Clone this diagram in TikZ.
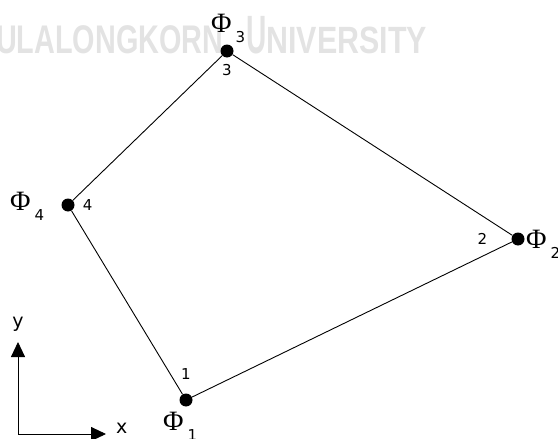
\documentclass[tikz,border=0pt]{standalone}
\usepackage{fontspec}
\setmainfont{Liberation Serif}
\newfontfamily\numfont{DejaVu Sans}
\newfontfamily\markfont{Liberation Sans}
\usepackage{graphicx}
\usepackage{xcolor}
\definecolor{ink}{HTML}{000000}
\definecolor{stamp}{HTML}{E3E3E3}
\usepackage{tikz}
\usetikzlibrary{positioning,arrows.meta}
\tikzset{
  dot/.style={circle, fill=ink, inner sep=0pt, minimum size=13pt},
  edge/.style={ink, line width=0.9pt},
  axis/.style={{Triangle[length=15pt, width=14pt]}-{Triangle[length=15pt, width=14pt]}, ink, line width=0.9pt},
  num/.style={inner sep=0pt, font=\numfont\fontsize{15}{15}\selectfont},
  axlbl/.style={inner sep=0pt, font=\numfont\fontsize{19}{19}\selectfont},
  phi/.style={inner sep=0pt, anchor=base west, font=\fontsize{28}{28}\selectfont},
  stamptext/.style={inner sep=0pt, anchor=base west, text=stamp, font=\markfont\bfseries},
}
\newcommand\phisub[1]{Φ\hspace{4pt}\raisebox{-10pt}{\numfont\fontsize{15}{15}\selectfont #1}}

\begin{document}
\begin{tikzpicture}[x=1pt, y=-1pt]
  \useasboundingbox (0,0) rectangle (558,439);
  % watermark
  \node[stamptext] (wm1) at (-4,53) {\scalebox{0.72}[1]{\fontsize{40}{40}\selectfont ULALONGKORN}};
  \node[stamptext] (wm2) at (246,53) {\scalebox{0.52}[1]{\fontsize{54}{54}\selectfont U}\scalebox{0.8}[1]{\fontsize{38}{38}\selectfont NIVERSITY}};
  % element corners
  \node[dot] (n1) at (186,400) {};
  \node[dot] (n2) at (518,239) {};
  \node[dot] (n3) at (227,51) {};
  \node[dot] (n4) at (68,205) {};
  \draw[edge] (n1) -- (n2) -- (n3) -- (n4) -- (n1);
  \node[num, above=14pt of n1] (l1) {1};
  \node[num, left=24pt of n2] (l2) {2};
  \node[num, below=6pt of n3] (l3) {3};
  \node[num, right=8pt of n4] (l4) {4};
  \node[phi] (p1) at (163,430) {\phisub{1}};
  \node[phi] (p2) at (526,248) {\phisub{2}};
  \node[phi] (p3) at (211,32) {\phisub{3}};
  \node[phi] (p4) at (10,210) {\phisub{4}};
  % axes
  \coordinate (o) at (18,434);
  \coordinate (xtip) at (106,434);
  \coordinate (ytip) at (18,342);
  \draw[axis] (ytip) -- (o) -- (xtip);
  \node[axlbl, right=10pt of xtip, yshift=6pt] (xl) {x};
  \node[axlbl, above=10pt of ytip] (yl) {y};
\end{tikzpicture}
\end{document}
